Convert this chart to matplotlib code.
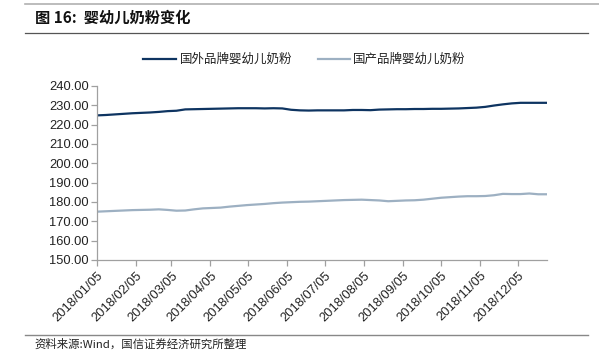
import matplotlib
matplotlib.use("Agg")
import matplotlib.pyplot as plt
import numpy as np
import pandas as pd
from matplotlib.lines import Line2D

plt.rcParams['font.family'] = ['Liberation Sans', 'Noto Sans CJK SC', 'DejaVu Sans']

dates = pd.date_range("2018-01-05", periods=52, freq="7D")
foreign = [224.8, 225.0, 225.3, 225.6, 225.9, 226.1, 226.3, 226.6, 227.0, 227.2,
           227.9, 228.0, 228.1, 228.2, 228.3, 228.4, 228.5, 228.5, 228.5, 228.4,
           228.5, 228.4, 227.7, 227.4, 227.3, 227.4, 227.4, 227.4, 227.4, 227.6,
           227.6, 227.5, 227.8, 227.9, 228.0, 228.0, 228.1, 228.1, 228.2, 228.2,
           228.3, 228.4, 228.6, 228.8, 229.2, 229.9, 230.5, 231.0, 231.3, 231.3,
           231.3, 231.3]
domestic = [175.0, 175.2, 175.4, 175.6, 175.8, 175.9, 176.0, 176.2, 175.9, 175.5,
            175.6, 176.2, 176.7, 176.9, 177.1, 177.6, 178.0, 178.4, 178.7, 179.0,
            179.4, 179.7, 179.9, 180.1, 180.2, 180.4, 180.6, 180.8, 181.0, 181.1,
            181.2, 181.0, 180.8, 180.4, 180.6, 180.8, 180.9, 181.2, 181.7, 182.2,
            182.5, 182.8, 183.0, 183.0, 183.1, 183.5, 184.2, 184.1, 184.1, 184.4,
            184.0, 184.0]
series_names = ["国外品牌婴幼儿奶粉", "国产品牌婴幼儿奶粉"]
tick_labels = ["2018/01/05", "2018/02/05", "2018/03/05", "2018/04/05",
               "2018/05/05", "2018/06/05", "2018/07/05", "2018/08/05",
               "2018/09/05", "2018/10/05", "2018/11/05", "2018/12/05"]
tick_dates = pd.to_datetime(tick_labels, format="%Y/%m/%d")
yticks = np.arange(150, 241, 10)

W, H = 599, 356
fig = plt.figure(figsize=(W / 100, H / 100), dpi=100)

def fx(px):
    return px / W

def fy(py):
    return 1 - py / H

ax = fig.add_axes([fx(97), fy(260), fx(547 - 97), (260 - 86) / H])

c_dark = "#0e3461"
c_light = "#9db0c2"
ax.plot(dates, foreign, color=c_dark, lw=1.6, solid_capstyle='round')
ax.plot(dates, domestic, color=c_light, lw=1.6, solid_capstyle='round')

ax.set_xlim(dates[0], dates[-1])
ax.set_ylim(150, 240)
ax.set_yticks(yticks)
ax.set_yticklabels([f"{v:.2f}" for v in yticks], fontsize=9.3, color="#222222")
ax.set_xticks(tick_dates)
ax.set_xticklabels(tick_labels, rotation=45, ha='right', rotation_mode='anchor',
                   fontsize=9.3, color="#222222")

for s in ["top", "right"]:
    ax.spines[s].set_visible(False)
for s in ["left", "bottom"]:
    ax.spines[s].set_color("#a0a0a0")
    ax.spines[s].set_linewidth(0.9)
ax.tick_params(axis='both', direction='out', length=4, width=0.9, color="#a0a0a0")
ax.tick_params(axis='y', pad=2)
ax.tick_params(axis='x', pad=3)

# legend drawn manually in figure coords
leg_y = fy(59)
fig.add_artist(Line2D([fx(143), fx(176)], [leg_y, leg_y], color=c_dark, lw=1.6))
fig.text(fx(180), leg_y, series_names[0], fontsize=9, va='center', ha='left',
         family=['Noto Sans CJK SC', 'DejaVu Sans'], color="#222222")
fig.add_artist(Line2D([fx(318), fx(350)], [leg_y, leg_y], color=c_light, lw=1.6))
fig.text(fx(353), leg_y, series_names[1], fontsize=9, va='center', ha='left',
         family=['Noto Sans CJK SC', 'DejaVu Sans'], color="#222222")

# header lines and title
fig.add_artist(Line2D([fx(25), fx(599)], [fy(4), fy(4)], color="#b0b0b0", lw=1.2))
fig.text(fx(35), fy(18), "图 16:  婴幼儿奶粉变化", fontsize=11, fontweight='bold',
         va='center', ha='left', family=['Noto Sans CJK SC', 'DejaVu Sans'], color="#111111")
fig.add_artist(Line2D([fx(25), fx(588)], [fy(33), fy(33)], color="#555555", lw=0.9))

# footer
fig.add_artist(Line2D([fx(25), fx(588)], [fy(335), fy(335)], color="#888888", lw=1.0))
fig.text(fx(34), fy(344), "资料来源:Wind，国信证券经济研究所整理", fontsize=8.2,
         va='center', ha='left', family=['Noto Sans CJK SC', 'DejaVu Sans'], color="#222222")

fig.savefig("out.png", dpi=100)
